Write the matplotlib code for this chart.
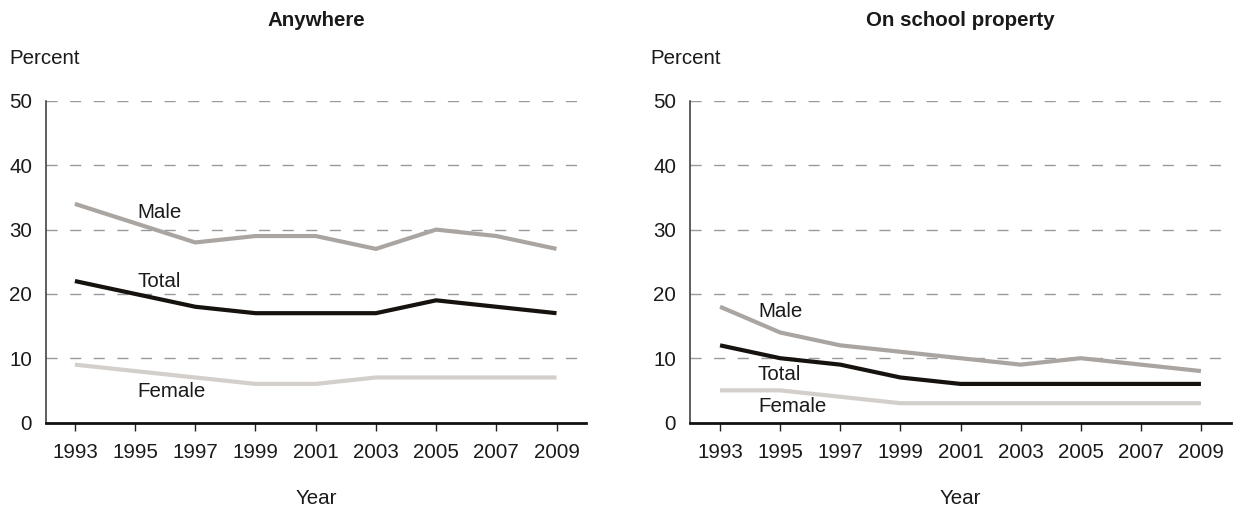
import matplotlib.pyplot as plt

plt.rcParams['font.family'] = ['Liberation Sans', 'DejaVu Sans']

years = [1993, 1995, 1997, 1999, 2001, 2003, 2005, 2007, 2009]

# Anywhere
any_male = [34, 31, 28, 29, 29, 27, 30, 29, 27]
any_total = [22, 20, 18, 17, 17, 17, 19, 18, 17]
any_female = [9, 8, 7, 6, 6, 7, 7, 7, 7]

# On school property
sch_male = [18, 14, 12, 11, 10, 9, 10, 9, 8]
sch_total = [12, 10, 9, 7, 6, 6, 6, 6, 6]
sch_female = [5, 5, 4, 3, 3, 3, 3, 3, 3]

male_color = '#aaa5a0'
total_color = '#16120e'
female_color = '#d3cfcb'
text_color = '#1a1a1a'
fs = 14.8

W, H = 1233, 508
fig = plt.figure(figsize=(W / 100, H / 100), dpi=100)


def draw_panel(left_px, right_px, title, male, total, female, xlim, label_pos):
    ax = fig.add_axes([left_px / W, 1 - 422.5 / H, (right_px - left_px) / W, 321.5 / H])
    for y in [10, 20, 30, 40, 50]:
        ax.axhline(y, color='#999999', lw=1, dashes=(8, 9), zorder=0)
    ax.plot(years, male, color=male_color, lw=3, solid_capstyle='butt')
    ax.plot(years, total, color=total_color, lw=3, solid_capstyle='butt')
    ax.plot(years, female, color=female_color, lw=3, solid_capstyle='butt')
    ax.set_xlim(*xlim)
    ax.set_ylim(0, 50)
    ax.set_xticks(years)
    ax.set_yticks([0, 10, 20, 30, 40, 50])
    ax.tick_params(axis='x', direction='out', length=6, width=1, labelsize=fs,
                   pad=9, color='#222222', labelcolor=text_color)
    ax.tick_params(axis='y', length=0, labelsize=fs, pad=10, labelcolor=text_color)
    for s in ['top', 'right']:
        ax.spines[s].set_visible(False)
    ax.spines['bottom'].set_linewidth(2)
    ax.spines['bottom'].set_color('#111111')
    ax.spines['left'].set_linewidth(1.1)
    ax.spines['left'].set_color('#333333')
    names = ['Male', 'Total', 'Female']
    for name, (x, y) in zip(names, label_pos):
        ax.text(x, y, name, fontsize=fs, va='center', ha='left', color=text_color)
    ax.set_xlabel('Year', fontsize=fs, labelpad=19, color=text_color)
    ax.set_title(title, fontsize=fs, fontweight='bold', color=text_color, pad=0,
                 y=(422.5 - 20) / 321.5, va='center')
    return ax


ax1 = draw_panel(46, 586, 'Anywhere', any_male, any_total, any_female,
                 (1992.04, 2009.98),
                 [(1995.08, 32.6), (1995.08, 21.9), (1995.08, 4.8)])
ax2 = draw_panel(690, 1231, 'On school property', sch_male, sch_total, sch_female,
                 (1992.0, 2010.0),
                 [(1994.26, 17.2), (1994.26, 7.5), (1994.26, 2.5)])

fig.text(9 / W, 1 - 59 / H, 'Percent', fontsize=fs, ha='left', va='center',
         color=text_color)
fig.text(650 / W, 1 - 59 / H, 'Percent', fontsize=fs, ha='left', va='center',
         color=text_color)

fig.savefig('out.png', dpi=100)
